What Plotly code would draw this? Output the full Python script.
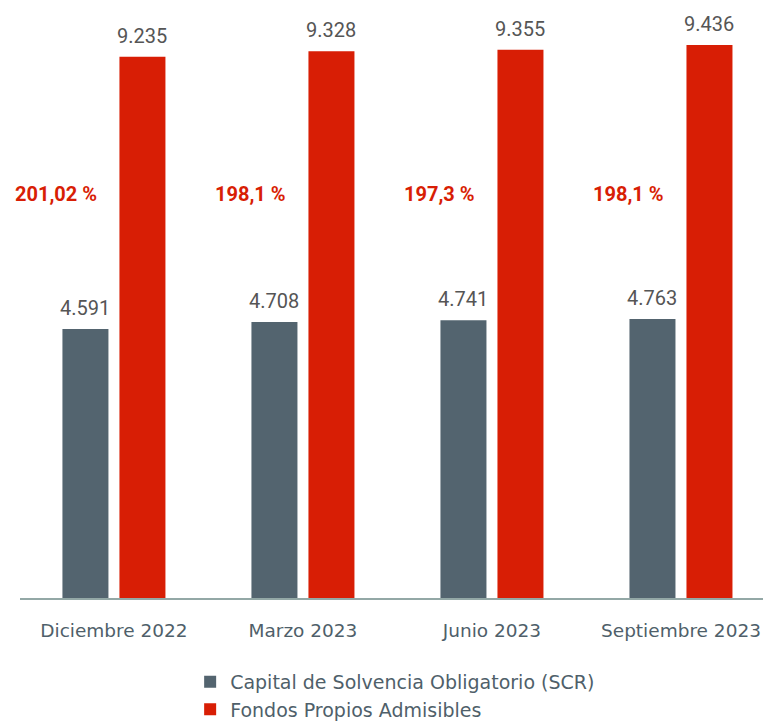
import plotly.graph_objects as go

categories = ["Diciembre 2022", "Marzo 2023", "Junio 2023", "Septiembre 2023"]
scr = [4591, 4708, 4741, 4763]
fondos = [9235, 9328, 9355, 9436]
ratios = ["201,02 %", "198,1 %", "197,3 %", "198,1 %"]
scr_labels = ["4.591", "4.708", "4.741", "4.763"]
fondos_labels = ["9.235", "9.328", "9.355", "9.436"]

GRAY = "#53646f"
RED = "#d81e05"
TXT = "#4f5f6a"
xs = list(range(len(categories)))

fig = go.Figure()
fig.add_trace(go.Bar(x=xs, y=scr, name="Capital de Solvencia Obligatorio (SCR)",
                     marker_color=GRAY, marker_line_width=0, width=0.2434, offset=-0.2725))
fig.add_trace(go.Bar(x=xs, y=fondos, name="Fondos Propios Admisibles",
                     marker_color=RED, marker_line_width=0, width=0.2434, offset=0.0291))

for i in xs:
    fig.add_annotation(x=i, y=scr[i], text=scr_labels[i], showarrow=False,
                       xshift=-28.5, yanchor="bottom", yshift=7,
                       font=dict(family="Roboto", size=20, color="#555555"))
    fig.add_annotation(x=i, y=fondos[i], text=fondos_labels[i], showarrow=False,
                       xshift=28.5, yanchor="bottom", yshift=7,
                       font=dict(family="Roboto", size=20, color="#555555"))
    fig.add_annotation(x=i, y=6890, text="<b>" + ratios[i] + "</b>", showarrow=False,
                       xanchor="right", xshift=-15,
                       font=dict(family="Roboto", size=20, color=RED))

fig.update_layout(
    width=763, height=722,
    margin=dict(l=20, r=0, t=10, b=124, autoexpand=False),
    plot_bgcolor="white", paper_bgcolor="white",
    barmode="overlay",
    showlegend=True,
    legend=dict(x=0.229, xanchor="left", yref="container", y=0.082, yanchor="top",
                orientation="v", traceorder="normal", tracegroupgap=0,
                itemwidth=30,
                font=dict(family="DejaVu Sans", size=19, color=TXT)),
    xaxis=dict(range=[-0.497, 3.434], tickvals=xs, ticktext=categories,
               automargin=False, ticklabeloverflow="allow",
               showgrid=False, zeroline=False, showline=True, linecolor="#93a8a6",
               linewidth=2, ticks="outside", ticklen=15, tickcolor="rgba(0,0,0,0)",
               tickfont=dict(family="DejaVu Sans", size=18.5, color=TXT)),
    yaxis=dict(range=[0, 10034], visible=False, showgrid=False, zeroline=False,
               automargin=False),
)

fig.write_html("out.html", config={"displayModeBar": False},
               post_script="document.body.style.margin='0';")
